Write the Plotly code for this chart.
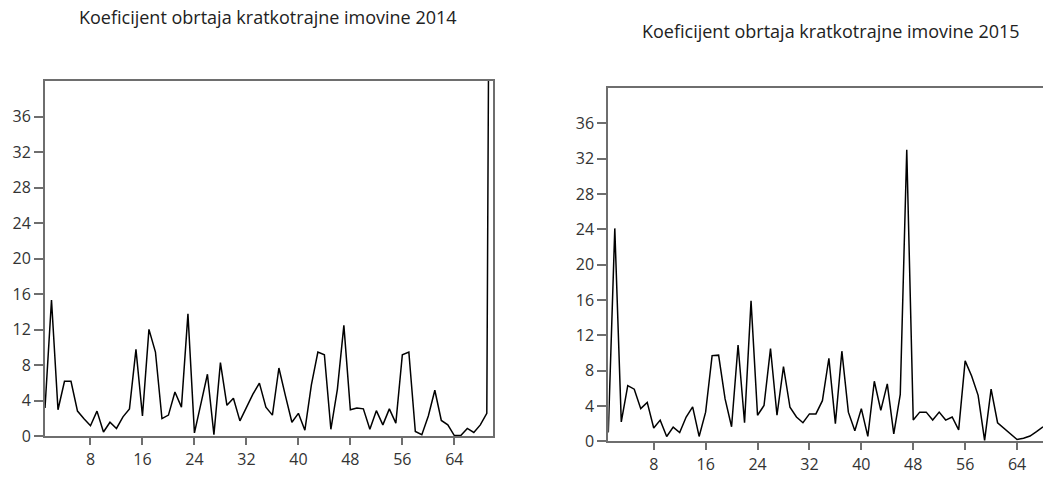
import plotly.graph_objects as go

# ---- data ----
x_2014 = list(range(1, 71))
y_2014 = [3.2, 15.35, 3.0, 6.2, 6.2, 2.85, 2.0, 1.2, 2.85, 0.5,
          1.6, 0.9, 2.2, 3.1, 9.8, 2.3, 12.05, 9.5, 2.0, 2.4,
          5.0, 3.3, 13.8, 0.4, 3.7, 7.0, 0.2, 8.3, 3.5, 4.3,
          1.75, 3.3, 4.75, 6.0, 3.3, 2.4, 7.7, 4.6, 1.6, 2.6,
          0.7, 5.8, 9.5, 9.2, 0.8, 5.3, 12.5, 3.0, 3.2, 3.1,
          0.8, 2.9, 1.3, 3.1, 1.5, 9.2, 9.5, 0.55, 0.2, 2.3,
          5.2, 1.8, 1.3, 0.1, 0.1, 0.9, 0.45, 1.3, 2.6, 150.0]

x_2015 = list(range(1, 69))
y_2015 = [1.0, 24.1, 2.2, 6.3, 5.9, 3.7, 4.4, 1.5, 2.4, 0.55,
          1.6, 1.0, 2.75, 3.9, 0.55, 3.3, 9.7, 9.75, 4.8, 1.65,
          10.9, 2.1, 15.9, 2.95, 4.05, 10.5, 2.95, 8.45, 3.85, 2.75,
          2.1, 3.1, 3.1, 4.6, 9.4, 2.0, 10.2, 3.3, 1.2, 3.7,
          0.55, 6.8, 3.5, 6.5, 0.85, 5.3, 33.0, 2.4, 3.3, 3.3,
          2.4, 3.3, 2.4, 2.75, 1.3, 9.1, 7.4, 5.2, 0.1, 5.9,
          2.1, 1.5, 0.85, 0.2, 0.35, 0.6, 1.1, 1.65]

x_ticks = [8, 16, 24, 32, 40, 48, 56, 64]
y_ticks = [0, 4, 8, 12, 16, 20, 24, 28, 32, 36]

titles = ["Koeficijent obrtaja kratkotrajne imovine 2014",
          "Koeficijent obrtaja kratkotrajne imovine 2015"]

W, H = 1043, 478
FONT = "Open Sans"
AXIS_COL = "#6e6e6e"
TXT_COL = "#333333"

fig = go.Figure()
fig.add_trace(go.Scatter(x=x_2014, y=y_2014, mode="lines",
                         line=dict(color="black", width=1.5),
                         xaxis="x", yaxis="y", showlegend=False))
fig.add_trace(go.Scatter(x=x_2015, y=y_2015, mode="lines",
                         line=dict(color="black", width=1.5),
                         xaxis="x2", yaxis="y2", showlegend=False))

def xax(dom, rng, anchor, mirror):
    return dict(domain=dom, range=rng, anchor=anchor, tickvals=x_ticks,
                ticktext=[str(v) for v in x_ticks],
                showline=True, mirror=mirror, linecolor=AXIS_COL, linewidth=2,
                ticks="outside", ticklen=7, tickwidth=2, tickcolor=AXIS_COL,
                showgrid=False, zeroline=False,
                tickfont=dict(family=FONT, size=16, color=TXT_COL))

def yax(dom, anchor, mirror):
    return dict(domain=dom, range=[0, 40], anchor=anchor, tickvals=y_ticks,
                ticktext=[str(v) for v in y_ticks],
                showline=True, mirror=mirror, linecolor=AXIS_COL, linewidth=2,
                ticks="outside", ticklen=9, tickwidth=2, tickcolor=AXIS_COL,
                showgrid=False, zeroline=False,
                tickfont=dict(family=FONT, size=16, color=TXT_COL))

fig.update_layout(
    width=W, height=H,
    margin=dict(l=0, r=0, t=0, b=0),
    paper_bgcolor="white", plot_bgcolor="white",
    xaxis=xax([45 / W, 493.3 / W], [1, 70], "y", True),
    yaxis=yax([1 - 446.7 / H, 1 - 83 / H], "x", True),
    xaxis2=xax([608.3 / W, 1.0], [1, 68.0], "y2", True),
    yaxis2=yax([1 - 451.7 / H, 1 - 90 / H], "x2", False),
    annotations=[
        dict(text=titles[0], xref="paper", yref="paper",
             x=268.3 / W, y=1 - 17 / H, xanchor="center", yanchor="middle",
             showarrow=False, font=dict(family=FONT, size=18, color="#222222")),
        dict(text=titles[1], xref="paper", yref="paper",
             x=830.8 / W, y=1 - 32 / H, xanchor="center", yanchor="middle",
             showarrow=False, font=dict(family=FONT, size=18, color="#222222")),
    ],
)

fig.write_html(
    "out.html",
    config={"displayModeBar": False},
    post_script="document.body.style.margin='0';document.body.style.overflow='hidden';",
)
